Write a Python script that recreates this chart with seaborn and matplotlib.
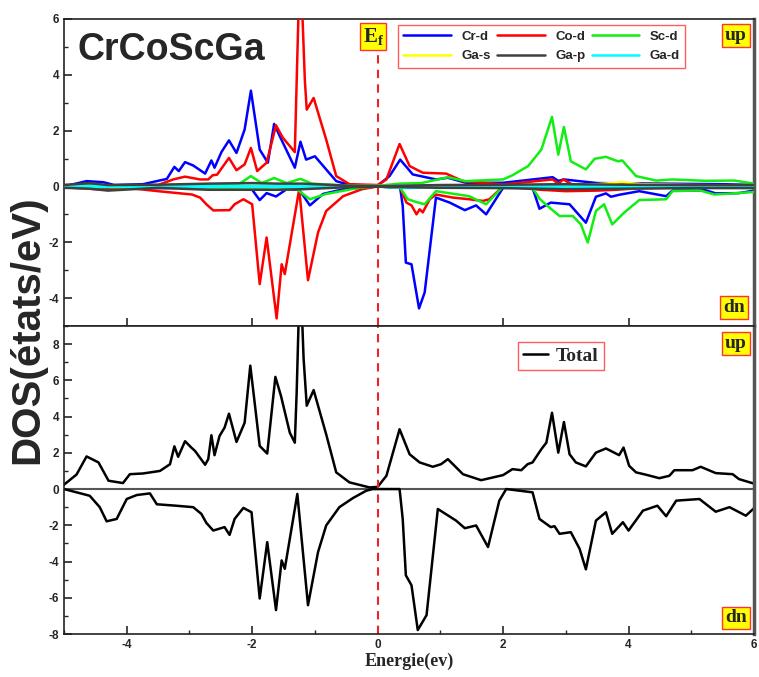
#!/usr/bin/env python3
"""
Partial and total spin-polarised DOS of CrCoScGa (two stacked panels)
"""

import numpy as np
import matplotlib
matplotlib.use('Agg')
import matplotlib.pyplot as plt
import seaborn as sns
from matplotlib.ticker import MultipleLocator

# ---- partial DOS, spin up / spin down (energies in eV) ----
CR_UP_E = [-5.0, -4.64, -4.37, -4.2, -3.74, -3.36, -3.24, -3.17, -3.07, -2.94, -2.75, -2.65, -2.60, -2.49,
           -2.37, -2.25, -2.12, -2.02, -1.88, -1.75, -1.65, -1.56, -1.32, -1.23, -1.14, -1.0, -0.66, -0.45,
           0.0, 0.19, 0.36, 0.56, 0.93, 1.12, 1.41, 2.0, 2.79, 2.88, 2.97, 3.5, 4.5, 5.5, 6.0]
CR_UP = [0.0, 0.19, 0.15, 0.05, 0.08, 0.27, 0.7, 0.55, 0.87, 0.75, 0.46, 0.93, 0.67, 1.23,
         1.65, 1.2, 2.04, 3.43, 1.32, 0.85, 2.24, 1.8, 0.67, 1.6, 0.96, 1.08, 0.19, 0.05,
         0.03, 0.37, 0.96, 0.43, 0.25, 0.31, 0.13, 0.13, 0.33, 0.2, 0.25, 0.12, 0.1, 0.08, 0.05]
CR_DN_E = [-5.0, -4.3, -3.0, -2.2, -2.0, -1.88, -1.77, -1.62, -1.45, -1.25, -1.08, -0.87, -0.55, 0.0,
           0.36, 0.40, 0.45, 0.54, 0.66, 0.75, 0.93, 1.15, 1.39, 1.57, 1.73, 2.0, 2.47, 2.58, 2.76,
           3.06, 3.32, 3.48, 3.64, 3.72, 3.85, 4.17, 4.6, 4.7, 5.23, 5.39, 5.76, 6.0]
CR_DN = [-0.02, -0.08, -0.05, -0.07, -0.12, -0.49, -0.24, -0.36, -0.1, -0.12, -0.68, -0.27, -0.1, 0.0,
         -0.05, -0.7, -2.73, -2.79, -4.37, -3.8, -0.4, -0.58, -0.85, -0.68, -1.0, -0.05, -0.05, -0.8, -0.58,
         -0.64, -1.3, -0.37, -0.25, -0.37, -0.3, -0.17, -0.35, -0.15, -0.14, -0.25, -0.24, -0.15]

CO_UP_E = [-5.0, -4.0, -3.5, -3.26, -3.07, -2.83, -2.7, -2.63, -2.56, -2.37, -2.25, -2.12, -2.02, -1.92,
           -1.77, -1.62, -1.51, -1.32, -1.29, -1.25, -1.21, -1.16, -1.13, -1.02, -0.82, -0.66, -0.45,
           0.0, 0.14, 0.35, 0.51, 0.72, 1.09, 1.36, 2.0, 2.79, 2.88, 2.96, 3.1, 4.0, 5.0, 6.0]
CO_UP = [0.05, 0.03, 0.05, 0.25, 0.35, 0.25, 0.25, 0.4, 0.42, 1.02, 0.58, 0.79, 1.38, 0.55,
         0.85, 2.19, 1.74, 1.23, 3.8, 7.2, 6.8, 3.8, 2.75, 3.17, 1.68, 0.37, 0.08,
         0.05, 0.25, 1.52, 0.73, 0.49, 0.46, 0.19, 0.07, 0.25, 0.1, 0.25, 0.07, 0.03, 0.03, 0.02]
CO_DN_E = [-5.0, -4.3, -4.0, -3.5, -2.96, -2.83, -2.73, -2.62, -2.36, -2.28, -2.14, -2.0, -1.88, -1.77,
           -1.61, -1.53, -1.48, -1.25, -1.11, -0.95, -0.82, -0.55, -0.25, 0.0, 0.36, 0.46, 0.54, 0.62,
           0.67, 0.72, 0.83, 0.93, 1.2, 1.46, 1.68, 1.78, 2.0, 2.6, 3.0, 3.5, 3.8, 4.2, 5.0, 6.0]
CO_DN = [-0.03, -0.12, -0.05, -0.17, -0.29, -0.4, -0.64, -0.86, -0.85, -0.64, -0.46, -0.64, -3.5, -1.83,
         -4.73, -2.79, -3.14, -0.1, -3.36, -1.65, -0.88, -0.35, -0.1, 0.0, -0.05, -0.58, -0.68, -1.0,
         -0.82, -0.93, -0.46, -0.29, -0.4, -0.46, -0.52, -0.46, 0.0, -0.12, -0.17, -0.15, -0.12, -0.06, -0.04, -0.03]

SC_UP_E = [-5.0, -4.0, -3.0, -2.5, -2.2, -2.02, -1.85, -1.65, -1.45, -1.23, -1.05, -0.5, 0.0, 0.35, 0.7,
           1.12, 1.4, 2.0, 2.15, 2.4, 2.61, 2.78, 2.88, 2.97, 3.08, 3.32, 3.46, 3.64, 3.83, 3.9,
           4.12, 4.44, 4.7, 5.23, 5.69, 6.0]
SC_UP = [0.02, 0.03, 0.06, 0.08, 0.1, 0.37, 0.12, 0.3, 0.12, 0.27, 0.1, 0.03, 0.02, 0.1, 0.12,
         0.33, 0.19, 0.25, 0.4, 0.73, 1.32, 2.49, 1.14, 2.13, 0.9, 0.61, 0.99, 1.06, 0.9, 0.93,
         0.37, 0.21, 0.25, 0.2, 0.21, 0.1]
SC_DN_E = [-5.0, -3.0, -2.0, -1.65, -1.3, -1.08, -0.82, -0.3, 0.0, 0.36, 0.48, 0.62, 0.75, 0.93, 1.46,
           1.73, 2.0, 2.47, 2.58, 2.74, 2.9, 3.11, 3.24, 3.35, 3.48, 3.61, 3.74, 3.93, 4.17, 4.6,
           4.7, 5.13, 5.37, 5.65, 6.0]
SC_DN = [-0.02, -0.04, -0.06, -0.12, -0.08, -0.46, -0.27, -0.05, 0.0, -0.05, -0.46, -0.56, -0.64, -0.17, -0.35,
         -0.64, 0.0, -0.05, -0.44, -0.76, -1.06, -1.06, -1.36, -2.01, -0.88, -0.64, -1.36, -0.94, -0.49, -0.46,
         -0.17, -0.14, -0.29, -0.25, -0.2]

GA_S_E = [-5.0, -2.0, 0.0, 2.0, 3.5, 3.9, 4.2, 5.0, 6.0]
GA_S_UP = [0.01, 0.02, 0.01, 0.03, 0.08, 0.15, 0.08, 0.05, 0.03]
GA_S_DN = [-0.01, -0.02, -0.01, -0.02, -0.05, -0.08, -0.05, -0.03, -0.02]

GA_P_E = [-5.0, -4.6, -4.3, -3.5, -2.7, -2.0, -1.6, -1.2, -0.5, 0.0, 1.0, 2.0, 3.0, 4.0, 5.0, 6.0]
GA_P_UP = [0.05, 0.12, 0.05, 0.06, 0.1, 0.12, 0.1, 0.1, 0.03, 0.01, 0.05, 0.06, 0.08, 0.06, 0.05, 0.05]
GA_P_DN = [-0.05, -0.08, -0.15, -0.05, -0.12, -0.12, -0.12, -0.1, -0.03, -0.01, -0.05, -0.06, -0.1, -0.08, -0.06, -0.06]

GA_D_E = [-5.0, -2.0, 0.0, 0.3, 0.5, 0.8, 2.0, 4.0, 6.0]
GA_D_UP = [0.01, 0.02, 0.01, 0.02, 0.03, 0.02, 0.02, 0.02, 0.01]
GA_D_DN = [-0.01, -0.02, -0.01, -0.04, -0.06, -0.03, -0.02, -0.02, -0.01]

# ---- total DOS ----
TOT_UP_E = [-5.0, -4.8, -4.64, -4.45, -4.29, -4.06, -3.95, -3.74, -3.47, -3.31, -3.24, -3.18, -3.07, -2.97,
            -2.91, -2.75, -2.70, -2.65, -2.60, -2.52, -2.44, -2.37, -2.25, -2.12, -2.03, -1.96, -1.88, -1.76,
            -1.63, -1.54, -1.40, -1.32, -1.29, -1.25, -1.21, -1.18, -1.13, -1.02, -0.82, -0.66, -0.45, -0.13,
            0.0, 0.14, 0.35, 0.51, 0.67, 0.88, 1.01, 1.12, 1.36, 1.65, 2.0, 2.15, 2.29, 2.39, 2.47, 2.61,
            2.69, 2.78, 2.88, 2.97, 3.06, 3.16, 3.32, 3.48, 3.64, 3.85, 3.92, 4.01, 4.12, 4.28, 4.49, 4.65,
            4.73, 5.02, 5.15, 5.39, 5.66, 5.76, 6.0]
TOT_UP = [0.24, 0.8, 1.8, 1.47, 0.46, 0.33, 0.82, 0.86, 1.0, 1.37, 2.36, 1.78, 2.64, 2.29,
          2.1, 1.34, 1.65, 2.97, 1.87, 2.93, 3.39, 4.16, 2.6, 3.66, 6.81, 4.76, 2.38, 1.96,
          6.19, 5.13, 3.11, 2.56, 5.4, 10.5, 10.0, 7.2, 4.6, 5.46, 3.02, 0.92, 0.37, 0.09,
          0.12, 0.73, 3.3, 1.92, 1.47, 1.23, 1.37, 1.65, 0.82, 0.49, 0.77, 1.1, 1.04, 1.37, 1.47, 2.2,
          2.56, 4.21, 2.01, 3.70, 1.92, 1.47, 1.25, 2.01, 2.24, 1.87, 2.29, 1.28, 0.92, 0.79, 0.6, 0.73,
          1.04, 1.04, 1.23, 0.88, 0.82, 0.55, 0.3]
TOT_DN_E = [-5.0, -4.59, -4.43, -4.32, -4.16, -4.0, -3.84, -3.63, -3.52, -3.21, -2.94, -2.81, -2.73, -2.62,
            -2.44, -2.36, -2.28, -2.14, -2.01, -1.88, -1.76, -1.62, -1.53, -1.48, -1.28, -1.11, -0.95, -0.82,
            -0.61, -0.39, -0.18, -0.08, 0.0, 0.35, 0.40, 0.45, 0.54, 0.64, 0.78, 0.96, 1.25, 1.39, 1.57,
            1.76, 1.94, 2.05, 2.47, 2.58, 2.76, 2.82, 2.90, 3.08, 3.22, 3.32, 3.48, 3.64, 3.74, 3.91, 4.0,
            4.23, 4.46, 4.6, 4.76, 5.13, 5.39, 5.61, 5.87, 6.0]
TOT_DN = [0, -0.37, -1.0, -1.78, -1.65, -0.55, -0.33, -0.24, -0.84, -0.92, -1.0, -1.37, -1.87, -2.29,
          -2.1, -2.53, -1.65, -1.04, -1.28, -6.04, -2.93, -6.68, -3.94, -4.4, -0.27, -6.41, -3.48, -2.01,
          -1.0, -0.49, -0.09, 0.0, 0.0, 0.0, -1.65, -4.76, -5.31, -7.78, -6.96, -1.1, -1.74, -2.16, -2.01,
          -3.2, -0.64, 0.0, -0.18, -1.65, -2.1, -2.05, -2.47, -2.38, -3.3, -4.43, -1.74, -1.28, -2.47, -1.83, -2.29,
          -1.19, -0.92, -1.5, -0.64, -0.55, -1.25, -1.0, -1.47, -1.06]

# name, colour, up energies, up values, down energies, down values, draw order
PARTIALS = [
    ('Cr-d', '#0000ff', CR_UP_E, CR_UP, CR_DN_E, CR_DN, 2),
    ('Co-d', '#ff0000', CO_UP_E, CO_UP, CO_DN_E, CO_DN, 3),
    ('Sc-d', '#11ee11', SC_UP_E, SC_UP, SC_DN_E, SC_DN, 4),
    ('Ga-s', '#ffff00', GA_S_E, GA_S_UP, GA_S_E, GA_S_DN, 5),
    ('Ga-p', '#404040', GA_P_E, GA_P_UP, GA_P_E, GA_P_DN, 7),
    ('Ga-d', '#00ffff', GA_D_E, GA_D_UP, GA_D_E, GA_D_DN, 6),
]

sns.set_style('ticks')
plt.rcParams['font.family'] = ['Liberation Sans', 'DejaVu Sans']
plt.rcParams['axes.unicode_minus'] = False
plt.rcParams['mathtext.fontset'] = 'custom'
plt.rcParams['mathtext.bf'] = 'Liberation Serif:bold'
plt.rcParams['mathtext.rm'] = 'Liberation Serif'

fig = plt.figure(figsize=(7.59, 6.77), dpi=100)
ax1 = fig.add_axes([0.0843, 0.5185, 0.9091, 0.4535])
ax2 = fig.add_axes([0.0843, 0.0635, 0.9091, 0.4550])

# top panel: partial DOS
for name, col, eu, up, ed, dn, z in PARTIALS:
    sns.lineplot(x=eu, y=up, ax=ax1, color=col, lw=1.8, label=name, zorder=z)
    sns.lineplot(x=ed, y=dn, ax=ax1, color=col, lw=1.8, legend=False, zorder=z)

handles, labels = ax1.get_legend_handles_labels()
order = [0, 3, 1, 4, 2, 5]
leg = ax1.legend([handles[i] for i in order], [labels[i] for i in order], ncol=3,
                 loc='center', bbox_to_anchor=(0.484, 0.824, 0.416, 0.173), mode='expand',
                 fancybox=False, edgecolor='#ff3333', handlelength=3.6, columnspacing=1.0,
                 prop={'weight': 'bold', 'size': 9.5}, borderaxespad=0, labelspacing=0.55)
leg.get_frame().set_linewidth(1.0)
leg.set_zorder(10)

ax1.axvline(0, ymin=0, ymax=0.89, color='#ee2222', ls=(0, (4, 3)), lw=1.5)
ax1.set_xlim(-5, 6)
ax1.set_ylim(-5, 6)
ax1.set_xticklabels([])
ax1.yaxis.set_major_locator(MultipleLocator(2))
ax1.yaxis.set_minor_locator(MultipleLocator(1))

ax1.text(0.02, 0.90, 'CrCoScGa', transform=ax1.transAxes, fontsize=27,
         fontweight='bold', ha='left', va='center')
ax1.text(0.448, 0.942, r'$\mathbf{E}_\mathbf{f}$', transform=ax1.transAxes, fontsize=15,
         ha='center', va='center',
         bbox=dict(boxstyle='square,pad=0.12', facecolor='#ffff00', edgecolor='#ff3333', lw=1))

# bottom panel: total DOS
sns.lineplot(x=TOT_UP_E, y=TOT_UP, ax=ax2, color='black', lw=1.8, label='Total')
sns.lineplot(x=TOT_DN_E, y=TOT_DN, ax=ax2, color='black', lw=1.8, legend=False)
ax2.axhline(0, color='#555555', lw=1.5, zorder=1)
ax2.axvline(0, color='#ee2222', ls=(0, (4, 3)), lw=1.5)
leg2 = ax2.legend(loc='center', bbox_to_anchor=(0.72, 0.903), fancybox=False,
                  edgecolor='#ff3333', handlelength=1.3, handletextpad=0.4, borderpad=0.25,
                  prop={'family': 'Liberation Serif', 'weight': 'bold', 'size': 14})
leg2.get_frame().set_linewidth(1.0)
ax2.set_xlim(-5, 6)
ax2.set_ylim(-8, 9)
ax2.xaxis.set_major_locator(MultipleLocator(2))
ax2.xaxis.set_minor_locator(MultipleLocator(1))
ax2.yaxis.set_major_locator(MultipleLocator(2))
ax2.yaxis.set_minor_locator(MultipleLocator(1))
ax2.set_xlabel('Energie(ev)', family='Liberation Serif', fontweight='bold', fontsize=13, labelpad=1)

# spin labels
for ax, pos in [(ax1, (0.974, 0.945, 'up')), (ax1, (0.971, 0.059, 'dn')),
                (ax2, (0.974, 0.942, 'up')), (ax2, (0.974, 0.052, 'dn'))]:
    ax.text(pos[0], pos[1], pos[2], transform=ax.transAxes, family='Liberation Serif',
            fontweight='bold', fontsize=14, ha='center', va='center', zorder=10,
            bbox=dict(boxstyle='square,pad=0.15', facecolor='#ffff00', edgecolor='#ff3333', lw=1))

for ax in (ax1, ax2):
    ax.set_ylabel('')
    ax.tick_params(which='both', direction='in', top=False, right=False)
    ax.tick_params(which='major', length=6, width=1.2, labelsize=8.5)
    ax.tick_params(which='minor', length=3, width=1.0)
    for lab in ax.get_xticklabels() + ax.get_yticklabels():
        lab.set_fontweight('bold')
    for side in ['left', 'bottom', 'top']:
        ax.spines[side].set_color('#222222')
        ax.spines[side].set_linewidth(1.2)
    ax.spines['right'].set_color('#555555')
    ax.spines['right'].set_linewidth(2.5)

fig.text(0.036, 0.513, 'DOS(états/eV)', rotation=90, fontsize=29, fontweight='bold',
         ha='center', va='center')

fig.savefig('out.png', dpi=100, facecolor='white')
